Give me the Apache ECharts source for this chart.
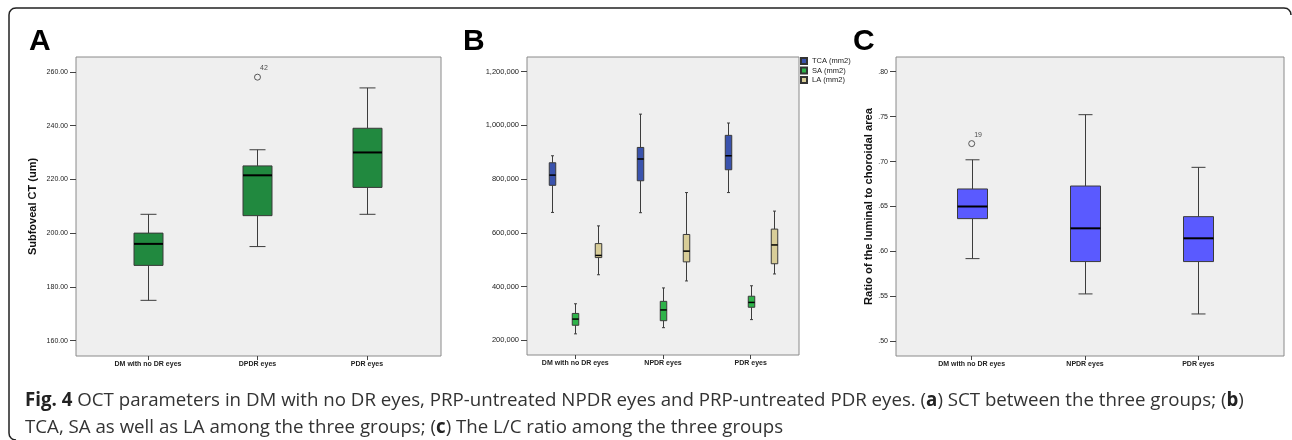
<!DOCTYPE html>
<html>
<head>
<meta charset="utf-8">
<script src="https://cdn.jsdelivr.net/npm/echarts@6/dist/echarts.min.js"></script>
<style>
html,body{margin:0;padding:0;background:#fff;}
#chart{width:1292px;height:440px;}
</style>
</head>
<body>
<div id="chart"></div>
<script>
// ---------- data ----------
const categoriesA = ['DM with no DR eyes', 'DPDR eyes', 'PDR eyes'];
const categoriesBC = ['DM with no DR eyes', 'NPDR eyes', 'PDR eyes'];

// [group, lower whisker, Q1, median, Q3, upper whisker]
const sctBox = [
  [1, 175, 188, 196, 200, 207],
  [2, 195, 206.5, 221.5, 225, 231],
  [3, 207, 217, 230, 239, 254]
];
const sctOutliers = [[2, 258, '42']];

const tcaBox = [
  [1, 676000, 777000, 815000, 861000, 887000],
  [2, 675000, 794000, 875000, 918000, 1042000],
  [3, 750000, 835000, 887000, 963000, 1009000]
];
const saBox = [
  [1, 224000, 256000, 279000, 300000, 336000],
  [2, 247000, 273000, 313000, 345000, 395000],
  [3, 277000, 323000, 341000, 364000, 403000]
];
const laBox = [
  [1, 444000, 508000, 516000, 560000, 626000],
  [2, 421000, 492000, 532000, 594000, 750000],
  [3, 447000, 485000, 555000, 614000, 681000]
];
const seriesNamesB = ['TCA (mm2)', 'SA (mm2)', 'LA (mm2)'];

const lcBox = [
  [1, 0.592, 0.6365, 0.650, 0.6695, 0.702],
  [2, 0.5527, 0.5887, 0.6257, 0.6728, 0.7522],
  [3, 0.5304, 0.5887, 0.6146, 0.6387, 0.6936]
];
const lcOutliers = [[1, 0.72, '19']];

const ticksA = [160, 180, 200, 220, 240, 260];
const ticksB = [200000, 400000, 600000, 800000, 1000000, 1200000];
const ticksC = [0.50, 0.55, 0.60, 0.65, 0.70, 0.75, 0.80];
const groupTicks = [1, 2, 3];

const titleA = 'Subfoveal CT (um)';
const titleC = 'Ratio of the luminal to choroidal area';
const caption = '{b|Fig. 4} OCT parameters in DM with no DR eyes, PRP-untreated NPDR eyes and PRP-untreated PDR eyes. ({b|a}) SCT between the three groups; ({b|b})\nTCA, SA as well as LA among the three groups; ({b|c}) The L/C ratio among the three groups';

// ---------- helpers ----------
const FONT = '"Liberation Sans", Arial, sans-serif';

function boxSeries(name, data, axisIdx, o) {
  return {
    type: 'custom',
    name: name,
    xAxisIndex: axisIdx,
    yAxisIndex: axisIdx,
    data: data,
    encode: { x: 0, y: [1, 2, 3, 4, 5] },
    itemStyle: { color: o.color, borderColor: '#333', borderWidth: 0.6 },
    renderItem: function (params, api) {
      const x = api.value(0);
      const c = v => api.coord([x, v]);
      const lo = c(api.value(1)), q1 = c(api.value(2)), md = c(api.value(3)),
            q3 = c(api.value(4)), hi = c(api.value(5));
      const cx = Math.round(lo[0] + o.dx) + 0.5;
      const hw = o.boxW / 2, cw = o.capW / 2;
      const ws = { stroke: '#3c3c3c', lineWidth: 1 };
      return {
        type: 'group',
        children: [
          { type: 'line', shape: { x1: cx, y1: hi[1], x2: cx, y2: q3[1] }, style: ws },
          { type: 'line', shape: { x1: cx, y1: q1[1], x2: cx, y2: lo[1] }, style: ws },
          { type: 'line', shape: { x1: cx - cw, y1: hi[1], x2: cx + cw, y2: hi[1] }, style: ws },
          { type: 'line', shape: { x1: cx - cw, y1: lo[1], x2: cx + cw, y2: lo[1] }, style: ws },
          { type: 'rect', shape: { x: cx - hw, y: q3[1], width: 2 * hw, height: q1[1] - q3[1] },
            style: { fill: o.color, stroke: '#3a3a3a', lineWidth: 1 } },
          { type: 'line', shape: { x1: cx - hw, y1: md[1], x2: cx + hw, y2: md[1] },
            style: { stroke: '#000', lineWidth: o.medW } }
        ]
      };
    }
  };
}

function outlierSeries(data, axisIdx) {
  return {
    type: 'scatter',
    xAxisIndex: axisIdx, yAxisIndex: axisIdx,
    data: data,
    symbol: 'circle', symbolSize: 6,
    itemStyle: { color: '#f0f0f0', borderColor: '#333', borderWidth: 1 },
    label: {
      show: true, position: [6, -9], align: 'left', verticalAlign: 'top',
      formatter: p => p.data[2], fontSize: 7, color: '#222', fontFamily: FONT
    },
    z: 5
  };
}

function xAxisDef(gridIndex, min, max, cats) {
  return {
    type: 'value', gridIndex, min, max,
    axisLine: { show: false },
    splitLine: { show: false },
    axisTick: { show: true, length: 4, customValues: groupTicks, lineStyle: { color: '#444' } },
    axisLabel: {
      customValues: groupTicks, margin: 5, fontSize: 7, fontWeight: 'bold', color: '#222',
      fontFamily: FONT, formatter: v => cats[Math.round(v) - 1]
    }
  };
}

function yAxisDef(gridIndex, min, max, ticks, fmt, fs, extra) {
  return Object.assign({
    type: 'value', gridIndex, min, max,
    axisLine: { show: false },
    splitLine: { show: false },
    axisTick: { show: true, length: 6, customValues: ticks, lineStyle: { color: '#444' } },
    axisLabel: { customValues: ticks, margin: 8, fontSize: fs, color: '#222', fontFamily: FONT, formatter: fmt }
  }, extra || {});
}

const gridStyle = { show: true, backgroundColor: '#efefef', borderColor: '#8a8a8a', borderWidth: 1 };
const frameStyle = { fill: 'none', stroke: '#222', lineWidth: 1.5 };

const option = {
  animation: false,
  backgroundColor: '#ffffff',
  grid: [
    Object.assign({ left: 76, top: 57, width: 365, height: 299 }, gridStyle),
    Object.assign({ left: 527, top: 57, width: 272, height: 298 }, gridStyle),
    Object.assign({ left: 896, top: 57, width: 388, height: 299 }, gridStyle)
  ],
  xAxis: [
    xAxisDef(0, 0.3425, 3.676, categoriesA),
    xAxisDef(1, 0.449, 3.551, categoriesBC),
    xAxisDef(2, 0.332, 3.756, categoriesBC)
  ],
  yAxis: [
    yAxisDef(0, 154.3, 265.5, ticksA, v => v.toFixed(2), 7, {
      name: titleA, nameLocation: 'middle', nameGap: 38,
      nameTextStyle: { fontSize: 11, fontWeight: 'bold', color: '#111', fontFamily: FONT }
    }),
    yAxisDef(1, 145270, 1254730, ticksB, v => Math.round(v).toLocaleString('en-US'), 7.5),
    yAxisDef(2, 0.4836, 0.8164, ticksC, v => v.toFixed(2).replace(/^0/, ''), 7, {
      name: titleC, nameLocation: 'middle', nameGap: 22,
      nameTextStyle: { fontSize: 11.2, fontWeight: 'bold', color: '#111', fontFamily: FONT }
    })
  ],
  legend: {
    data: seriesNamesB,
    orient: 'vertical', left: 800, top: 57, padding: 0,
    itemWidth: 6, itemHeight: 6, itemGap: 1.5, icon: 'rect',
    selectedMode: false,
    textStyle: { fontSize: 7.5, color: '#222', fontFamily: FONT }
  },
  series: [
    boxSeries('SCT', sctBox, 0, { color: '#21893f', dx: 0, boxW: 29, capW: 16, medW: 2 }),
    outlierSeries(sctOutliers, 0),
    boxSeries(seriesNamesB[0], tcaBox, 1, { color: '#3a53ad', dx: -23, boxW: 6.5, capW: 3, medW: 1.5 }),
    boxSeries(seriesNamesB[1], saBox, 1, { color: '#2eb349', dx: 0, boxW: 6.5, capW: 3, medW: 1.5 }),
    boxSeries(seriesNamesB[2], laBox, 1, { color: '#d8cd98', dx: 23, boxW: 6.5, capW: 3, medW: 1.5 }),
    boxSeries('L/C', lcBox, 2, { color: '#5a5aff', dx: 0, boxW: 30, capW: 14, medW: 2 }),
    outlierSeries(lcOutliers, 2)
  ],
  graphic: [
    { type: 'polyline', silent: true,
      shape: { points: [[1291, 15], [1290.5, 12], [1289, 10], [1287, 8.5], [1284, 8], [16, 8], [13, 8.5], [11, 10], [9.5, 12], [9, 15],
                        [9, 433], [9.5, 436], [11, 438], [13, 439.5], [16, 440]] },
      style: frameStyle },
    { type: 'text', left: 29, top: 27, silent: true,
      style: { text: 'A', font: 'bold 30px "Liberation Sans", Arial, sans-serif', fill: '#000' } },
    { type: 'text', left: 463, top: 27, silent: true,
      style: { text: 'B', font: 'bold 30px "Liberation Sans", Arial, sans-serif', fill: '#000' } },
    { type: 'text', left: 853, top: 27, silent: true,
      style: { text: 'C', font: 'bold 30px "Liberation Sans", Arial, sans-serif', fill: '#000' } },
    { type: 'text', left: 25, top: 387, silent: true,
      style: {
        text: caption, fontFamily: '"Open Sans", sans-serif', fontSize: 18.7, lineHeight: 27, fill: '#333',
        rich: {
          b: { fontFamily: '"Open Sans", sans-serif', fontSize: 18.7, fontWeight: 'bold', fill: '#222', lineHeight: 27 }
        }
      } }
  ]
};

const chart = echarts.init(document.getElementById('chart'), null, { renderer: 'canvas' });
chart.setOption(option);
</script>
</body>
</html>
